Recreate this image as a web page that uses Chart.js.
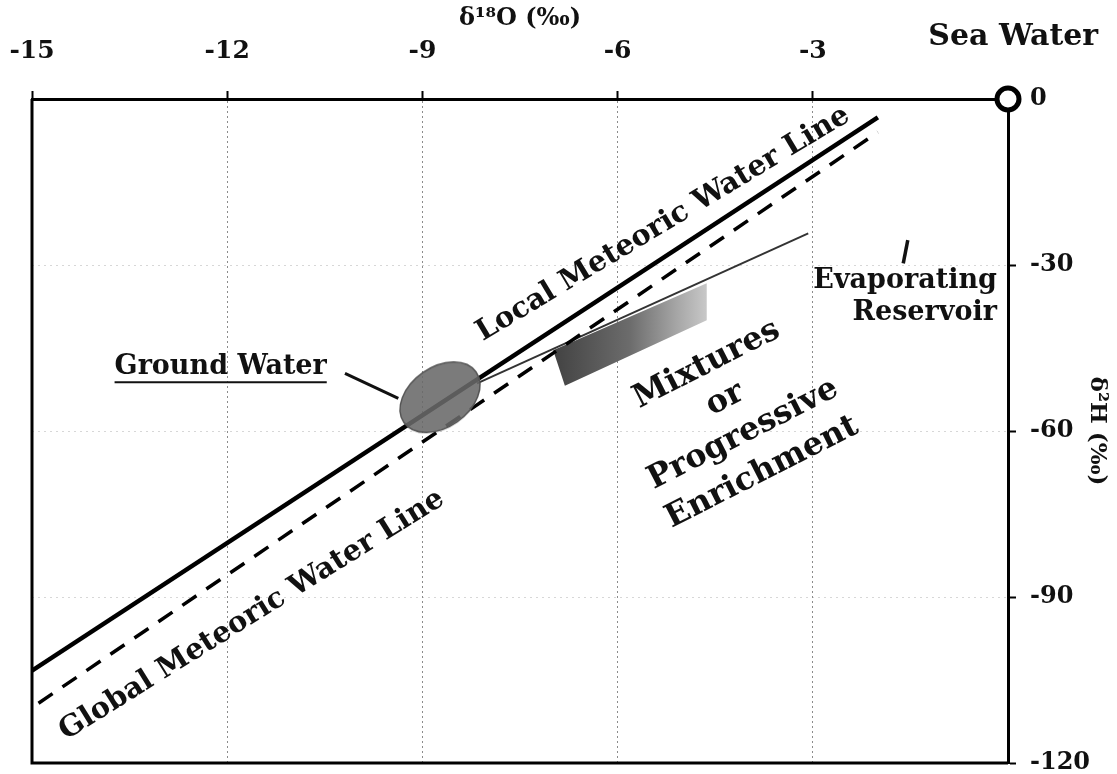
<!DOCTYPE html>
<html>
<head>
<meta charset="utf-8">
<title>Stable isotopes: d18O vs d2H</title>
<script src="https://cdn.jsdelivr.net/npm/chart.js@4.4.1/dist/chart.umd.min.js"></script>
<style>
  html, body { margin: 0; padding: 0; background: #fff; }
  #wrap { width: 1117px; height: 774px; }
</style>
</head>
<body>
<div id="wrap"><canvas id="isoChart" width="1117" height="774"></canvas></div>
<script>
const FONT = "'DejaVu Serif', serif";

// axis ticks
const xTickValues = [-15, -12, -9, -6, -3, 0];
const yTickValues = [-120, -90, -60, -30, 0];

// [d18O, d2H] pairs
const localLine = [[-15, -103.3], [-2, -3.3]];
const globalLine = [[-14.9, -109.2], [-2, -6]];
const evaporationLine = [[-8.16, -51.4], [-3.07, -24.3]];
const mixtureZone = [[-6.99, -45.4], [-4.63, -33.3], [-4.63, -40.0], [-6.81, -51.8]];
const groundWater = [[-8.73, -53.9]];
const seaWater = [[0, 0]];
const leaderLine = [[-10.19, -49.6], [-9.37, -54.1]];
const reservoirMark = [[-1.54, -25.5], [-1.61, -29.7]];

// text notes, anchored in data units
const notes = [
  { text: 'Local Meteoric Water Line', at: [-5.3, -22.6], angle: -31, size: 29 },
  { text: 'Global Meteoric Water Line', at: [-11.62, -93.3], angle: -32, size: 29 },
  { text: 'Mixtures', at: [-4.63, -48.0], angle: -27, size: 32 },
  { text: 'or', at: [-4.35, -54.3], angle: -27, size: 32 },
  { text: 'Progressive', at: [-4.07, -60.6], angle: -27, size: 32 },
  { text: 'Enrichment', at: [-3.78, -67.5], angle: -27, size: 32 },
  { text: 'Evaporating', at: [-0.17, -32.9], angle: 0, size: 27, align: 'right' },
  { text: 'Reservoir', at: [-0.17, -38.7], angle: 0, size: 27, align: 'right' },
  { text: 'Ground Water', at: [-10.47, -48.5], angle: 0, size: 27, align: 'right', underline: true },
  { text: 'Sea Water', at: [0.08, 11.1], angle: 0, size: 30 }
];

const toXY = arr => arr.map(p => ({ x: p[0], y: p[1] }));

function ellipseCanvas(rx, ry, deg) {
  const c = document.createElement('canvas');
  const s = Math.ceil(Math.max(rx, ry) * 2 + 6);
  c.width = s; c.height = s;
  const g = c.getContext('2d');
  g.translate(s / 2, s / 2);
  g.rotate(deg * Math.PI / 180);
  g.beginPath();
  g.ellipse(0, 0, rx, ry, 0, 0, Math.PI * 2);
  g.fillStyle = 'rgba(105,105,105,0.88)';
  g.fill();
  g.lineWidth = 1.5;
  g.strokeStyle = '#555';
  g.stroke();
  return c;
}

function mixGradient(context) {
  const chart = context.chart;
  if (!chart.chartArea) return '#777';
  const xs = chart.scales.x;
  const x0 = xs.getPixelForValue(mixtureZone[0][0]);
  const x1 = xs.getPixelForValue(mixtureZone[1][0]);
  const g = chart.ctx.createLinearGradient(x0, 0, x1, 0);
  g.addColorStop(0, '#424242');
  g.addColorStop(0.5, '#6c6c6c');
  g.addColorStop(0.8, '#a5a5a5');
  g.addColorStop(1, '#c8c8c8');
  return g;
}

const framePlugin = {
  id: 'frame',
  beforeDatasetsDraw(chart) {
    const { ctx, chartArea: a } = chart;
    ctx.save();
    ctx.strokeStyle = '#000';
    ctx.lineWidth = 3;
    ctx.beginPath();
    ctx.moveTo(a.left, a.top);
    ctx.lineTo(a.left, a.bottom);
    ctx.lineTo(a.right, a.bottom);
    ctx.stroke();
    ctx.restore();
  },
  afterDatasetsDraw(chart) {
    const { ctx, scales: { x, y } } = chart;
    notes.forEach(n => {
      const px = x.getPixelForValue(n.at[0]);
      const py = y.getPixelForValue(n.at[1]);
      ctx.save();
      ctx.translate(px, py);
      ctx.rotate(n.angle * Math.PI / 180);
      ctx.font = 'bold ' + n.size + 'px ' + FONT;
      ctx.fillStyle = '#111';
      ctx.textAlign = n.align || 'center';
      ctx.textBaseline = 'middle';
      ctx.fillText(n.text, 0, 0);
      if (n.underline) {
        const w = ctx.measureText(n.text).width;
        ctx.strokeStyle = '#111';
        ctx.lineWidth = 2;
        ctx.beginPath();
        ctx.moveTo(-w, n.size * 0.55);
        ctx.lineTo(0, n.size * 0.55);
        ctx.stroke();
      }
      ctx.restore();
    });
  }
};

new Chart(document.getElementById('isoChart'), {
  type: 'line',
  data: {
    datasets: [
      {
        label: 'Sea Water', data: toXY(seaWater), showLine: false, clip: false, order: 0,
        pointStyle: 'circle', pointRadius: 11, pointBorderWidth: 5,
        pointBorderColor: '#000', pointBackgroundColor: '#fff'
      },
      {
        label: 'Ground Water', data: toXY(groundWater), showLine: false, order: 1,
        pointStyle: ellipseCanvas(44, 30, -35), pointRadius: 40
      },
      {
        label: 'Leader', data: toXY(leaderLine), borderColor: '#111', borderWidth: 3,
        pointRadius: 0, order: 2
      },
      {
        label: 'Reservoir mark', data: toXY(reservoirMark), borderColor: '#111', borderWidth: 3.5,
        pointRadius: 0, order: 2
      },
      {
        label: 'Local Meteoric Water Line', data: toXY(localLine), borderColor: '#000',
        borderWidth: 4.5, pointRadius: 0, order: 3
      },
      {
        label: 'Global Meteoric Water Line', data: toXY(globalLine), borderColor: '#000',
        borderWidth: 3.5, borderDash: [17, 12], pointRadius: 0, order: 4
      },
      {
        label: 'Evaporation', data: toXY(evaporationLine), borderColor: '#333',
        borderWidth: 2, pointRadius: 0, order: 5
      },
      {
        label: 'Mixtures', data: toXY(mixtureZone.concat([mixtureZone[0]])),
        borderColor: 'rgba(0,0,0,0)', borderWidth: 0, pointRadius: 0,
        fill: 'shape', backgroundColor: mixGradient, order: 6
      }
    ]
  },
  options: {
    responsive: false,
    animation: false,
    events: [],
    layout: { autoPadding: false, padding: { left: 32, right: 0, top: 0, bottom: 11 } },
    plugins: { legend: { display: false }, tooltip: { enabled: false } },
    scales: {
      x: {
        type: 'linear', position: 'top', min: -15, max: 0,
        afterBuildTicks: s => { s.ticks = xTickValues.map(v => ({ value: v })); },
        afterFit: s => { s.height = 99; s.paddingLeft = 0; s.paddingRight = 0; },
        ticks: {
          font: { family: FONT, size: 25, weight: 'bold' }, color: '#111', padding: 25,
          callback: v => (v === 0 ? '' : String(v))
        },
        grid: { color: 'rgba(90,90,90,0.7)', lineWidth: 1, tickColor: '#000', tickWidth: 2, tickLength: 8 },
        border: { color: '#000', width: 3, dash: [2, 3] },
        title: {
          display: true, text: 'δ¹⁸O (‰)', color: '#111',
          font: { family: FONT, size: 24, weight: 'bold' }, padding: { top: 4, bottom: 0 }
        }
      },
      y: {
        type: 'linear', position: 'right', min: -120, max: 0,
        afterBuildTicks: s => { s.ticks = yTickValues.map(v => ({ value: v })); },
        afterFit: s => { s.width = 109; s.paddingTop = 0; s.paddingBottom = 0; },
        ticks: {
          font: { family: FONT, size: 24, weight: 'bold' }, color: '#111', padding: 14,
          callback: v => String(v)
        },
        grid: { color: 'rgba(140,140,140,0.35)', lineWidth: 1, tickColor: '#000', tickWidth: 2, tickLength: 8 },
        border: { color: '#000', width: 3, dash: [2, 4] },
        title: {
          display: true, text: 'δ²H (‰)', color: '#111',
          font: { family: FONT, size: 23, weight: 'bold' }, padding: { top: 6, bottom: 0 }
        }
      }
    }
  },
  plugins: [framePlugin]
});
</script>
</body>
</html>
